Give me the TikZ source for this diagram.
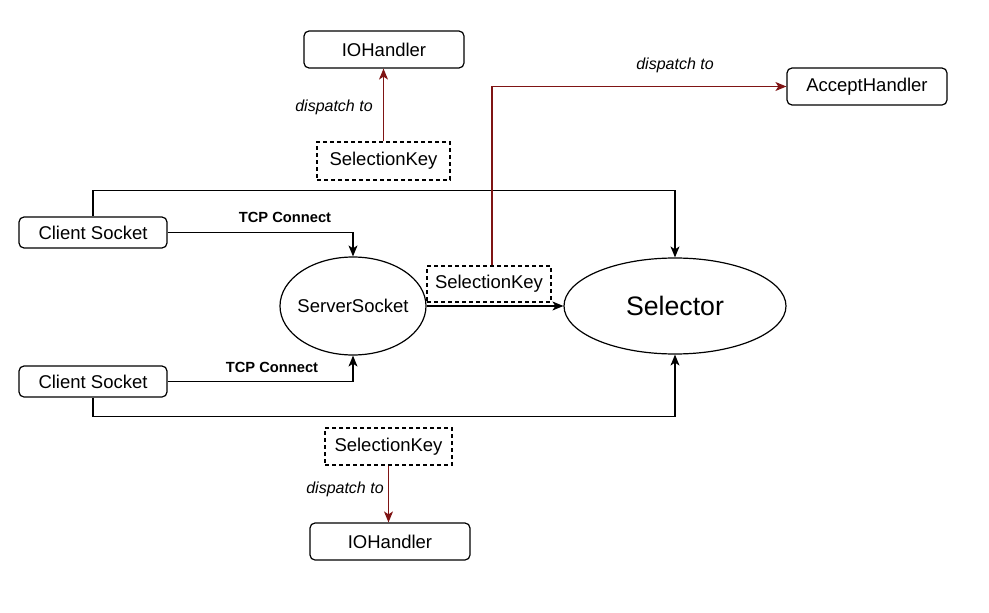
\documentclass[tikz,border=0pt]{standalone}
\usepackage{fontspec}
\setmainfont{Liberation Sans}
\usetikzlibrary{arrows.meta,shapes.geometric}
\definecolor{dred}{HTML}{7F1414}
\tikzset{
  txt/.style={font=\fontsize{18.5}{20}\selectfont},
  box/.style={txt, draw, rounded corners=5pt, line width=1.2pt, inner sep=0pt},
  keybox/.style={txt, draw, dash pattern=on 4pt off 3pt, line width=1.1pt, inner sep=0pt},
  oval/.style={ellipse, draw, line width=1.2pt, inner sep=0pt},
  conn/.style={line width=1.2pt, -{Stealth[length=11pt,width=9pt,inset=3pt]}},
  disp/.style={conn, draw=dred, color=dred},
  lbl/.style={font=\fontsize{16}{18}\selectfont\itshape},
  tcp/.style={font=\fontsize{14.7}{16}\selectfont\bfseries},
}
\begin{document}
\begin{tikzpicture}[x=1pt,y=-1pt]
\useasboundingbox (0,0) rectangle (989,613);
% nodes
\node[box, minimum width=160pt, minimum height=37pt] (ioh1) at (384,49.5) {IOHandler};
\node[keybox, minimum width=133pt, minimum height=38pt] (skt) at (383.5,161) {SelectionKey};
\node[box, minimum width=160pt, minimum height=37pt] (ah) at (867,86.5) {AcceptHandler};
\node[box, minimum width=148pt, minimum height=31pt] (c1) at (93,232.5) {Client Socket};
\node[box, minimum width=148pt, minimum height=31pt] (c2) at (93,381.5) {Client Socket};
\node[oval, txt, inner xsep=-5pt, minimum width=146pt, minimum height=98pt] (ss) at (353,306) {ServerSocket};
\node[oval, font=\fontsize{26.7}{28}\selectfont, minimum width=222pt, minimum height=96pt] (sel) at (675,306) {Selector};
\node[keybox, minimum width=124pt, minimum height=36pt] (skm) at (489,284) {SelectionKey};
\node[keybox, minimum width=127pt, minimum height=37pt] (skb) at (388.5,446.5) {SelectionKey};
\node[box, minimum width=160pt, minimum height=37pt] (ioh2) at (390,541.5) {IOHandler};
% connectors
\draw[conn] (c1.north) -- ++(0,-26) -| (sel.north);
\draw[conn] (c1.east) -| (ss.north);
\draw[conn] (c2.east) -| (ss.south);
\draw[conn] (c2.south) -- ++(0,19) -| (sel.south);
\draw[conn] (ss.east) -- (sel.west);
\draw[disp] ([xshift=3pt]skm.north) |- (ah.west);
\draw[disp] (skt.north) -- (skt.north |- ioh1.south);
\draw[disp] (skb.south) -- (skb.south |- ioh2.north);
% labels
\node[tcp] (t1) at (285,217) {TCP Connect};
\node[tcp] (t2) at (272,367) {TCP Connect};
\node[lbl] (d1) at (334,107) {dispatch to};
\node[lbl] (d2) at (675,65) {dispatch to};
\node[lbl] (d3) at (345,489) {dispatch to};
\end{tikzpicture}
\end{document}
